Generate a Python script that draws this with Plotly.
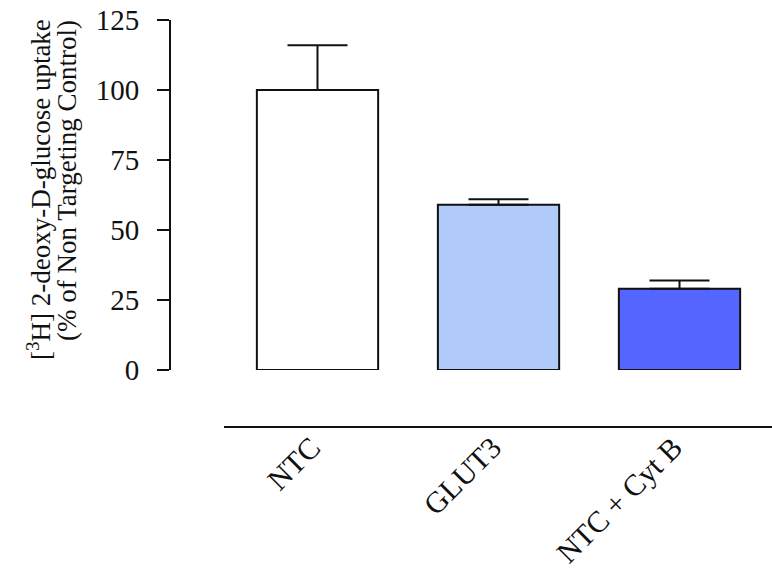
import plotly.graph_objects as go

categories = ["NTC", "GLUT3", "NTC + Cyt B"]
values = [100, 59, 29]
errors_up = [16, 2, 3]
colors = ["#FFFFFF", "#B0CAFA", "#5565FF"]
y_ticks = [0, 25, 50, 75, 100, 125]
title_line1 = "[<sup>3</sup>H] 2-deoxy-D-glucose uptake"
title_line2 = "(% of Non Targeting Control)"

OFF = 0  # page body margin removed via post_script
W, H = 772 - OFF, 585 - OFF
FONT = "Liberation Serif, Times New Roman, serif"


def px(x):
    return (x - OFF) / W


def py(y):
    return (H - (y - OFF)) / H


fig = go.Figure()
fig.add_trace(go.Bar(
    x=categories, y=values,
    marker=dict(color=colors, line=dict(color="#111111", width=2)),
    width=0.67,
    error_y=dict(type="data", array=errors_up, arrayminus=[0, 0, 0], symmetric=False,
                 color="#111111", thickness=2, width=30),
    showlegend=False,
))

fig.update_layout(
    width=W, height=H,
    margin=dict(l=0, r=0, t=0, b=0),
    paper_bgcolor="white", plot_bgcolor="white",
    font=dict(family=FONT, color="#111111"),
    xaxis=dict(
        domain=[px(224), 1], anchor="free", position=py(427),
        range=[-0.5166, -0.5166 + (W + OFF - 224) / 181.0],
        showline=True, linecolor="#111111", linewidth=2,
        ticks="", tickangle=-45, tickfont=dict(size=30, family=FONT),
        ticklabelstandoff=-10, ticklabelshift=-6, ticklabeloverflow="allow",
        showgrid=False, zeroline=False, automargin=False,
    ),
    yaxis=dict(
        domain=[py(370), py(20)], anchor="free", position=px(170),
        range=[0, 125], tickvals=y_ticks, showline=True, linecolor="#111111", linewidth=2,
        ticks="outside", ticklen=12, tickwidth=2, tickcolor="#111111",
        tickfont=dict(size=29, family=FONT), ticklabelstandoff=12,
        ticklabeloverflow="allow",
        showgrid=False, zeroline=False, automargin=False,
    ),
    annotations=[
        dict(text=title_line1, x=px(39), y=py(190), xref="paper", yref="paper",
             textangle=-90, showarrow=False,
             font=dict(size=27, family=FONT, color="#111111"),
             xanchor="center", yanchor="middle"),
        dict(text=title_line2, x=px(67), y=py(181), xref="paper", yref="paper",
             textangle=-90, showarrow=False,
             font=dict(size=27, family=FONT, color="#111111"),
             xanchor="center", yanchor="middle"),
    ],
)

fig.write_html("out.html", config={"displayModeBar": False},
               post_script="document.body.style.margin='0px';")
